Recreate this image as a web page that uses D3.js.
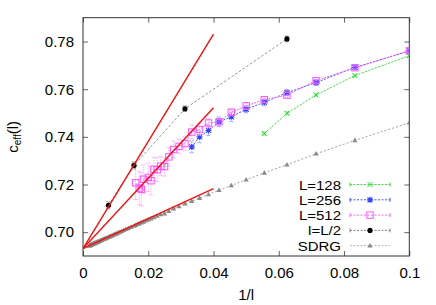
<!DOCTYPE html>
<html><head><meta charset="utf-8">
<script src="https://cdn.jsdelivr.net/npm/d3@7"></script>
<style>body{margin:0;background:#fff}svg{display:block}text{font-family:"Liberation Sans",Arial,sans-serif}</style>
</head><body><svg id="c" width="436" height="305"></svg>
<script>
// ---- data (x = 1/l) ----
const xTicks = [0, 0.02, 0.04, 0.06, 0.08, 0.1];
const xTickLabels = ["0", "0.02", "0.04", "0.06", "0.08", "0.1"];
const yTicks = [0.70, 0.72, 0.74, 0.76, 0.78];
const yTickLabels = ["0.70", "0.72", "0.74", "0.76", "0.78"];

const l128 = [18, 16, 14, 12, 10];
const v128 = [0.7414, 0.7499, 0.7576, 0.7657, 0.7741];
const e128 = [0.0006, 0.0006, 0.0005, 0.0005, 0.0005];

const l256 = [30, 28, 26, 24, 22, 20, 18, 16, 14, 12, 10];
const v256 = [0.7358, 0.7400, 0.7427, 0.7463, 0.7484, 0.7516, 0.7545, 0.7585, 0.7628, 0.7691, 0.7761];
const e256 = [0.0025, 0.0025, 0.0022, 0.002, 0.002, 0.0015, 0.0015, 0.0013, 0.0012, 0.0008, 0.0006];

const l512 = [62, 58, 56, 54, 50, 48, 46, 44, 42, 40, 38, 36, 34, 32, 30, 28, 26, 24, 22, 20, 18, 16, 14, 12, 10];
const v512 = [0.7207, 0.7185, 0.7180, 0.7222, 0.7230, 0.7216, 0.7264, 0.7262, 0.7277, 0.7275, 0.7316, 0.7347, 0.7360, 0.7372, 0.7420, 0.7431, 0.7458, 0.7463, 0.7503, 0.7530, 0.7556, 0.7575, 0.7636, 0.7690, 0.7761];
const e512 = [0.007, 0.007, 0.007, 0.006, 0.006, 0.006, 0.005, 0.005, 0.004, 0.004, 0.004, 0.0035, 0.003, 0.003, 0.003, 0.0025, 0.002, 0.002, 0.0015, 0.0015, 0.0012, 0.0012, 0.001, 0.0008, 0.0006];

const lHalf = [128, 64, 32, 16];
const vHalf = [0.7113, 0.7280, 0.7518, 0.7811];
const eHalf = [0.0015, 0.0015, 0.0012, 0.0012];

const lSDRG = [10,12,14,16,18,20,22,24,26,28,30,32,34,36,38,40,42,44,46,48,50,52,54,56,58,60,62,64,
  68,72,76,80,84,88,92,96,100,104,108,112,116,120,124,128,
  136,144,152,160,168,176,184,192,200,208,216,224,232,240,248,256,
  272,288,304,320,336,352,368,384,400,416,432,448,464,480,496,512];
const vSDRG = [0.7459,0.7385,0.7329,0.7283,0.7249,0.7220,0.7196,0.7176,0.7158,0.7143,0.7130,0.7119,0.7108,0.7098,0.7088,0.7078,0.7074,0.7068,0.7062,0.7057,0.7052,0.7048,0.7043,0.7040,0.7036,0.7033,0.7029,0.7026,
  0.7021,0.7016,0.7012,0.7008,0.7004,0.7001,0.6998,0.6995,0.6993,0.6990,0.6988,0.6986,0.6984,0.6982,0.6981,0.6979,
  0.6976,0.6974,0.6972,0.6970,0.6968,0.6966,0.6965,0.6963,0.6962,0.6961,0.6960,0.6959,0.6958,0.6957,0.6956,0.6955,
  0.6954,0.6953,0.6952,0.6950,0.6950,0.6949,0.6948,0.6947,0.6947,0.6946,0.6945,0.6945,0.6944,0.6944,0.6944,0.6943];

// fit lines: start (x0,y0) to end (x1,y1)
const fitX = [0, 0.04];
const fitStart = [0.6931, 0.6931, 0.6931];
const fitEnd = [0.7831, 0.7522, 0.7183];

const legendLabels = ["L=128", "L=256", "L=512", "l=L/2", "SDRG"];

// ---- drawing ----
const svg = d3.select("#c");
const W = 436, H = 305;
const m = {l: 83, r: 26.7, t: 17.7, b: 49};
const x = d3.scaleLinear().domain([0, 0.1]).range([m.l, W - m.r]);
const y = d3.scaleLinear().domain([0.69, 0.79]).range([H - m.b, m.t]);
const frameCol = "#333";

const colors = {g: "#22dd22", b: "#3344ff", p: "#ff55ff", k: "#000", s: "#888"};

svg.append("defs").append("clipPath").attr("id", "clp")
  .append("rect").attr("x", m.l).attr("y", m.t).attr("width", x(0.1) - m.l).attr("height", y(0.69) - m.t);

// axes with inward ticks
const fs = "15px";
const gx = svg.append("g").attr("transform", `translate(0,${y(0.69)})`)
  .call(d3.axisBottom(x).tickValues(xTicks).tickFormat((d, i) => xTickLabels[i]).tickSizeInner(-5).tickSizeOuter(0).tickPadding(11));
const gxt = svg.append("g").attr("transform", `translate(0,${y(0.79)})`)
  .call(d3.axisTop(x).tickValues(xTicks).tickFormat("").tickSizeInner(-5).tickSizeOuter(0));
const gy = svg.append("g").attr("transform", `translate(${x(0)},0)`)
  .call(d3.axisLeft(y).tickValues(yTicks).tickFormat((d, i) => yTickLabels[i]).tickSizeInner(-5).tickSizeOuter(0).tickPadding(9));
const gyr = svg.append("g").attr("transform", `translate(${x(0.1)},0)`)
  .call(d3.axisRight(y).tickValues(yTicks).tickFormat("").tickSizeInner(-5).tickSizeOuter(0));
[gx, gxt, gy, gyr].forEach(g => {
  g.select(".domain").remove();
  g.selectAll(".tick line").attr("stroke", "#666");
  g.selectAll("text").attr("font-size", fs).attr("fill", "#000").style("font-family", '"Liberation Sans",Arial,sans-serif');
});
svg.append("rect").attr("x", x(0)).attr("y", y(0.79)).attr("width", x(0.1) - x(0)).attr("height", y(0.69) - y(0.79))
  .attr("fill", "none").attr("stroke", frameCol).attr("stroke-width", 1);

// axis labels
svg.append("text").attr("x", (x(0) + x(0.1)) / 2).attr("y", 300).attr("text-anchor", "middle").attr("font-size", fs).text("1/l");
const yl = svg.append("text").attr("transform", `translate(18,${(y(0.69) + y(0.79)) / 2}) rotate(-90)`)
  .attr("text-anchor", "middle").attr("font-size", fs);
yl.append("tspan").text("c");
yl.append("tspan").attr("font-size", "10px").attr("dy", 3).text("eff");
yl.append("tspan").attr("dy", -3).text("(l)");

const plot = svg.append("g").attr("clip-path", "url(#clp)");

function mk(ls, vs) { return ls.map((l, i) => ({x: 1 / l, y: vs[i]})); }

function marker(g, type, cx, cy, col) {
  if (type === "x") {
    g.append("path").attr("d", `M${cx-2.5},${cy-2.5}L${cx+2.5},${cy+2.5}M${cx-2.5},${cy+2.5}L${cx+2.5},${cy-2.5}`).attr("stroke", col).attr("stroke-width", 1).attr("fill", "none");
  } else if (type === "star") {
    g.append("path").attr("d", `M${cx-2.5},${cy-2.5}L${cx+2.5},${cy+2.5}M${cx-2.5},${cy+2.5}L${cx+2.5},${cy-2.5}M${cx-3},${cy}L${cx+3},${cy}M${cx},${cy-3}L${cx},${cy+3}`).attr("stroke", col).attr("stroke-width", 1.2).attr("fill", "none");
  } else if (type === "sq") {
    g.append("rect").attr("x", cx - 3.2).attr("y", cy - 3.2).attr("width", 6.4).attr("height", 6.4).attr("fill", "none").attr("stroke", col).attr("stroke-width", 1);
  } else if (type === "dot") {
    g.append("circle").attr("cx", cx).attr("cy", cy).attr("r", 2.6).attr("fill", col);
  } else if (type === "tri") {
    g.append("path").attr("d", `M${cx},${cy-2.8}L${cx+2.6},${cy+1.8}L${cx-2.6},${cy+1.8}Z`).attr("fill", col);
  }
}

const line = d3.line().x(d => x(d.x)).y(d => y(d.y));

function series(ls, vs, es, col, type, dash, lw, ecol, lcol) {
  const d = mk(ls, vs);
  const g = plot.append("g");
  g.append("path").datum(d).attr("d", line).attr("fill", "none").attr("stroke", lcol || col).attr("stroke-width", lw).attr("stroke-dasharray", dash);
  if (es) {
    d.forEach((p, i) => {
      const cx = x(p.x), y0 = y(p.y - es[i]), y1 = y(p.y + es[i]);
      g.append("path").attr("d", `M${cx},${y0}L${cx},${y1}M${cx-2.2},${y0}L${cx+2.2},${y0}M${cx-2.2},${y1}L${cx+2.2},${y1}`)
        .attr("stroke", ecol || col).attr("stroke-width", 0.8).attr("stroke-dasharray", "1.5,1").attr("fill", "none");
    });
  }
  d.forEach(p => marker(g, type, x(p.x), y(p.y), col));
}

series(lSDRG, vSDRG, null, colors.s, "tri", "2,2", 0.8);
series(l128, v128, e128, colors.g, "x", "2,1.5", 0.9);
series(l256, v256, e256, colors.b, "star", "2,1.5", 0.9, "#7788ff");
series(l512, v512, e512, colors.p, "sq", "2,1", 0.9, "#ff99ff");
series(lHalf, vHalf, eHalf, colors.k, "dot", "2.5,2", 0.8, "#666", "#777");

// fit lines
fitEnd.forEach((ye, i) => {
  plot.append("line").attr("x1", x(fitX[0])).attr("y1", y(fitStart[i])).attr("x2", x(fitX[1])).attr("y2", y(ye))
    .attr("stroke", "#ee1111").attr("stroke-width", 1.4);
});

// legend
const lg = svg.append("g");
const ly0 = 184.5, ldy = 15.3;
const ltypes = ["x", "star", "sq", "dot", "tri"];
const lcols = [colors.g, colors.b, colors.p, colors.k, colors.s];
const lline = [colors.g, colors.b, colors.p, "#777", "#aaa"];
legendLabels.forEach((t, i) => {
  const yy = ly0 + i * ldy;
  lg.append("text").attr("transform", `translate(341,${yy + 5}) scale(1.11,1)`).attr("text-anchor", "end")
    .attr("font-size", "13.5px").text(t);
  lg.append("path").attr("d", `M350,${yy}L390,${yy}`).attr("stroke", lline[i]).attr("stroke-width", 0.9).attr("stroke-dasharray", "2,1.5");
  if (i < 4) lg.append("path").attr("d", `M350,${yy-2}L350,${yy+2}M390,${yy-2}L390,${yy+2}`).attr("stroke", lline[i]).attr("stroke-width", 0.9);
  marker(lg, ltypes[i], 370, yy, lcols[i]);
});
</script></body></html>
